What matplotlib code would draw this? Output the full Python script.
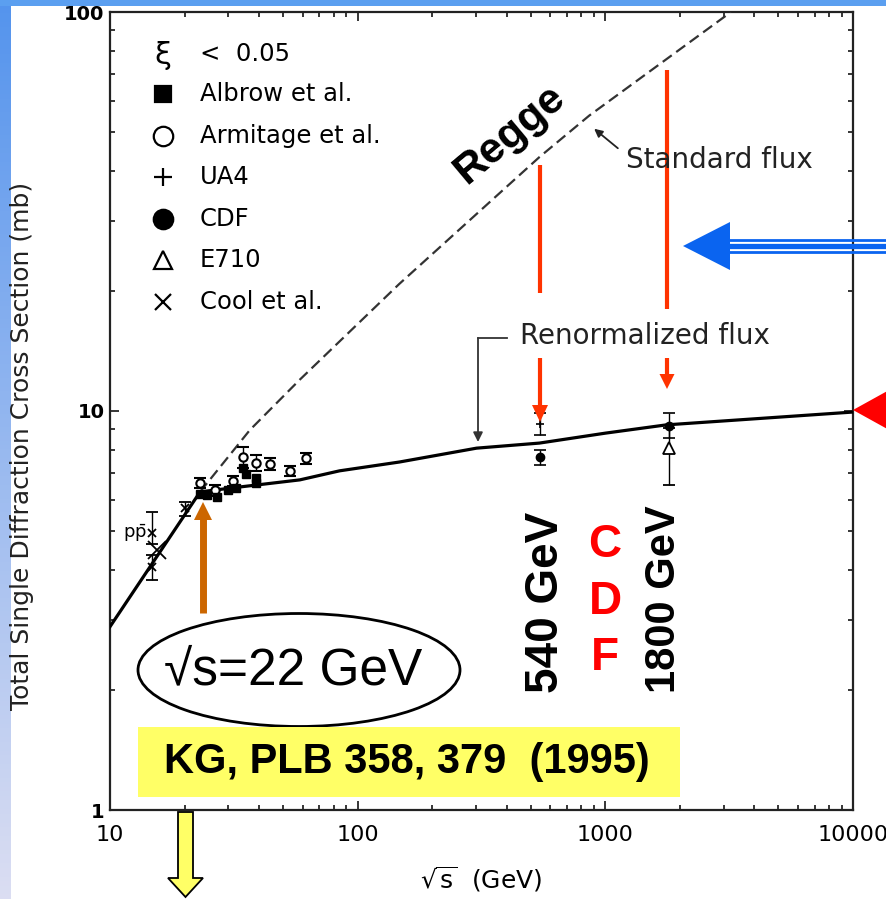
import numpy as np
import matplotlib
matplotlib.use('Agg')
import matplotlib.pyplot as plt
from matplotlib.patches import Ellipse, Polygon, Rectangle

# ---- values ----
x_ticks = [10, 100, 1000, 10000]
x_tick_labels = ['10', '100', '1000', '10000']
y_ticks = [1, 10, 100]
y_tick_labels = ['1', '10', '100']

# renormalized flux (solid)
ren_x = [10, 23.1, 33.4, 58.4, 84.5, 147.5, 302, 542, 1000, 1762, 10000]
ren_y = [2.88, 6.27, 6.45, 6.72, 7.08, 7.45, 8.07, 8.31, 8.8, 9.23, 9.94]
# standard flux (dashed)
std_x = [23.1, 36.7, 58.3, 147, 542, 861, 3076, 3300]
std_y = [6.27, 8.96, 11.97, 20.8, 43.3, 55.0, 98, 102]

albrow_x = [23.1, 24.6, 27.0, 29.9, 32.2, 34.4, 35.3, 38.8, 38.8]
albrow_y = [6.19, 6.17, 6.10, 6.34, 6.41, 7.19, 6.95, 6.79, 6.60]

armitage_x = [23.1, 26.5, 31.3, 34.4, 38.8, 44.2, 53.2, 61.6]
armitage_y = [6.60, 6.34, 6.68, 7.66, 7.41, 7.37, 7.08, 7.62]
armitage_err = [0.2, 0.2, 0.2, 0.45, 0.35, 0.25, 0.2, 0.25]

ua4_x = [546]
ua4_y = [9.3]
ua4_err = [0.6]

cdf_x = [546, 1800]
cdf_y = [7.67, 9.16]
cdf_lo = [0.34, 0.6]
cdf_hi = [0.31, 0.73]

e710_x = [1800]
e710_y = [8.07]
e710_lo = [1.54]
e710_hi = [1.0]

cool_x = [14.8, 14.8, 20.0]
cool_y = [4.94, 4.06, 5.71]
cool_lo = [0.3, 0.29, 0.25]
cool_hi = [0.64, 0.3, 0.22]
ppbar_x = [15.5]
ppbar_y = [4.48]

legend_labels = ['Albrow et al.', 'Armitage et al.', 'UA4', 'CDF', 'E710', 'Cool et al.']
legend_markers = ['s', 'o', '+', 'o', '^', 'x']
legend_faces = ['k', 'w', 'k', 'k', 'w', 'k']
legend_sizes = [12, 14, 13, 14, 13, 11]

plt.rcParams['font.family'] = ['DejaVu Sans']
plt.rcParams['mathtext.fontset'] = 'dejavusans'
arial = ['Liberation Sans', 'DejaVu Sans']

W, H = 887, 899
fig = plt.figure(figsize=(W / 100, H / 100), dpi=100)
fig.patch.set_facecolor('white')

ax = fig.add_axes([110 / W, 1 - 810 / H, 743 / W, 798 / H])
ax.set_xscale('log')
ax.set_yscale('log')
ax.set_xlim(10, 10000)
ax.set_ylim(1, 100)

ax.plot(ren_x, ren_y, color='k', lw=2.3, zorder=3)
ax.plot(std_x, std_y, color='#333333', lw=1.6, dashes=(5, 2.5), zorder=3)

eb = dict(ecolor='k', elinewidth=1, capsize=4, capthick=1.2, ls='none', zorder=4)
ax.errorbar(armitage_x, armitage_y, yerr=armitage_err, fmt='o', ms=6, mfc='w',
            mec='k', mew=1.5, **eb)
ax.plot(albrow_x, albrow_y, 's', ms=6, color='k', ls='none', zorder=5)
ax.errorbar(ua4_x, ua4_y, yerr=ua4_err, fmt='+', ms=6, color='k', mew=1.2, **eb)
ax.errorbar(e710_x, e710_y, yerr=[e710_lo, e710_hi], fmt='^', ms=9, mfc='w',
            mec='k', mew=1.3, **eb)
ax.errorbar(cdf_x, cdf_y, yerr=[cdf_lo, cdf_hi], fmt='o', ms=6, color='k', **eb)
ax.errorbar(cool_x, cool_y, yerr=[cool_lo, cool_hi], fmt='x', ms=6, color='k',
            mew=1.3, **eb)
ax.plot(ppbar_x, ppbar_y, 'x', ms=13, color='k', mew=1.3, zorder=4)

ax.set_xticks(x_ticks, labels=x_tick_labels)
ax.set_yticks(y_ticks, labels=y_tick_labels)
ax.tick_params(which='both', direction='in', top=True, right=True, width=1.1)
ax.tick_params(which='major', length=6.5)
ax.tick_params(which='minor', length=3.6)
ax.tick_params(axis='x', which='major', labelsize=16, pad=11)
ax.tick_params(axis='y', which='major', labelsize=14, pad=4)
for lab in ax.get_yticklabels():
    lab.set_fontweight('bold')
for sp in ax.spines.values():
    sp.set_linewidth(1.6)
    sp.set_color('#222222')

ax.set_xlabel(r'$\sqrt{\mathrm{s}}$  (GeV)', fontsize=18, labelpad=14)

# ---- overlay in pixel coordinates for the slide decorations ----
d = fig.add_axes([0, 0, 1, 1], zorder=5)
d.set_facecolor('none')
d.axis('off')

grad = np.linspace(0, 1, 200)[:, None, None]
top_c = np.array([0.33, 0.58, 0.93])
bot_c = np.array([0.86, 0.87, 0.95])
strip = top_c * (1 - grad) + bot_c * grad
d.imshow(strip, extent=(0, 11, H, 0), aspect='auto', zorder=0)
d.add_patch(Rectangle((0, 0), W, 6, color='#5b9ff0', lw=0, zorder=0))
d.set_xlim(0, W)
d.set_ylim(H, 0)

d.text(22, 446, 'Total Single Diffraction Cross Section (mb)', rotation=90,
       ha='center', va='center', fontsize=18, color='#222222')

# legend
d.text(163, 55, 'ξ', fontsize=22, ha='center', va='center')
d.text(200, 54, '<  0.05', fontsize=17.5, ha='left', va='center')
for i, (lab, mk, fc, ms) in enumerate(zip(legend_labels, legend_markers,
                                          legend_faces, legend_sizes)):
    yy = 94 + i * 41.6
    d.plot([163], [yy], marker=mk, ms=ms, mfc=fc, mec='k', mew=1.6, ls='none')
    d.text(200, yy, lab, fontsize=17.5, ha='left', va='center')

d.text(135, 533, r'p$\bar{\mathrm{p}}$', fontsize=13, ha='center', va='center')

# flux annotations
d.text(626, 160, 'Standard flux', fontsize=20, ha='left', va='center', color='#222222')
d.annotate('', xy=(592, 127), xytext=(620, 150),
           arrowprops=dict(arrowstyle='-|>', color='#222222', lw=1.3,
                           mutation_scale=12))
d.text(520, 336, 'Renormalized flux', fontsize=20, ha='left', va='center',
       color='#222222')
d.plot([507, 478], [338, 338], color='#333333', lw=1.3)
d.annotate('', xy=(478, 442), xytext=(478, 338),
           arrowprops=dict(arrowstyle='-|>', color='#333333', lw=1.3,
                           mutation_scale=14, shrinkA=0, shrinkB=0))

d.text(510, 134, 'Regge', fontsize=31, fontweight='bold', family=arial,
       rotation=40, ha='center', va='center', rotation_mode='anchor')

# red arrows at 540 and 1800 GeV
red = '#ff3300'


def down_arrow(x, y0, y1, hl, hw, c, lw):
    d.plot([x, x], [y0, y1 - hl], color=c, lw=lw, solid_capstyle='butt')
    d.add_patch(Polygon([[x - hw / 2, y1 - hl], [x + hw / 2, y1 - hl], [x, y1]],
                        closed=True, color=c, lw=0))


d.plot([540, 540], [165, 293], color=red, lw=3, solid_capstyle='butt')
down_arrow(540, 358, 422, 17, 16, red, 3)
d.plot([667, 667], [70, 309], color=red, lw=3, solid_capstyle='butt')
down_arrow(667, 358, 389, 15, 15, red, 3)

# blue triple arrow
blue = '#0a64f0'
d.add_patch(Polygon([[683, 246], [730, 222], [730, 270]], closed=True, color=blue, lw=0))
for yy, lw in [(239.7, 2.0), (246.3, 3.8), (252.3, 2.0)]:
    d.plot([728, W + 5], [yy, yy], color=blue, lw=lw, solid_capstyle='butt')

# red triangle at right edge
d.add_patch(Polygon([[853, 410], [900, 384], [900, 436]], closed=True,
                    color='#ff0000', lw=0, clip_on=False))

# orange arrow at 22 GeV
org = '#cc6600'
d.plot([203, 203], [613, 519], color=org, lw=5, solid_capstyle='butt')
d.add_patch(Polygon([[194, 520], [212, 520], [203, 502]], closed=True, color=org, lw=0))

d.add_patch(Ellipse((299, 670), 322, 113, fc='white', ec='k', lw=2))
d.text(293, 671, '√s=22 GeV', fontsize=37, family=arial, ha='center', va='center')

d.add_patch(Rectangle((138, 727), 542, 70, color='#ffff66', lw=0))
d.text(407, 762, 'KG, PLB 358, 379  (1995)', fontsize=30, fontweight='bold',
       family=arial, ha='center', va='center')

# yellow down arrow below axis
d.add_patch(Polygon([[178, 812], [193, 812], [193, 878], [203, 878], [185.5, 897],
                     [168, 878], [178, 878]], closed=True, fc='#ffff66', ec='k', lw=1.3))

d.text(546, 602, '540 GeV', fontsize=33, fontweight='bold', family=arial,
       rotation=90, ha='center', va='center')
d.text(664, 599, '1800 GeV', fontsize=30, fontweight='bold', family=arial,
       rotation=90, ha='center', va='center')
for yy, ch in zip([545, 602, 658], 'CDF'):
    d.text(605, yy, ch, fontsize=33, fontweight='bold', family=arial,
           color='#ff0000', ha='center', va='center')

fig.savefig('out.png', dpi=100)
